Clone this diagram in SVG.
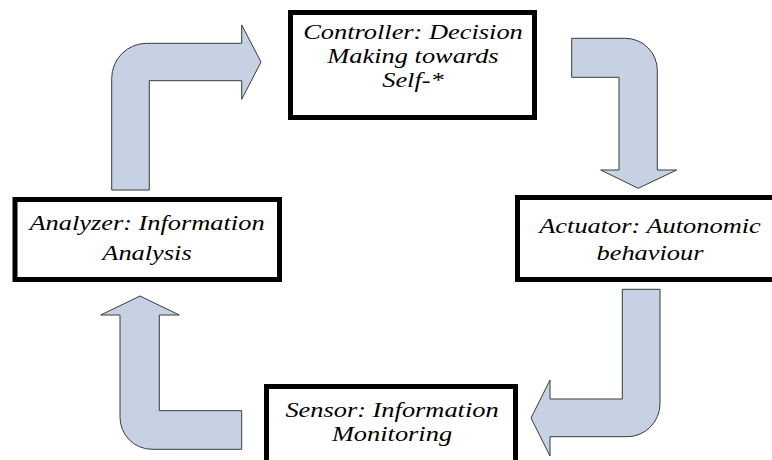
<svg xmlns="http://www.w3.org/2000/svg" width="772" height="460" viewBox="0 0 772 460">
  <style>
    .box { fill: #ffffff; stroke: #000000; stroke-width: 5; }
    .flow { fill: #c6d1e3; stroke: #3a3a3a; stroke-width: 1; stroke-linejoin: miter; }
    text { font-family: "Liberation Serif", "Times New Roman", serif; font-style: italic; font-size: 22px; fill: #000000; text-anchor: middle; }
  </style>
  <rect width="772" height="460" fill="#ffffff"/>

  <!-- bent block arrows forming the control loop -->
  <g id="connectors">
    <path class="flow" d="M111.7,190 L111.7,78.3 A35,35 0 0 1 146.7,43.3 L241.7,43.3 L241.7,25 L261,62 L241.7,99.3 L241.7,80.7 L149.3,80.7 L149.3,190 Z"/>
    <path class="flow" d="M571.7,38.3 L625.3,38.3 A32,32 0 0 1 657.3,70.3 L657.3,170 L676.7,170 L638.2,188.3 L600.7,170 L619,170 L619,77.3 L571.7,77.3 Z"/>
    <path class="flow" d="M622.3,289.3 L660,289.3 L660,403.7 A33,33 0 0 1 627,436.7 L550,436.7 L550,456 L531,418 L550,380 L550,399 L622.3,399 Z"/>
    <path class="flow" d="M241.7,410.7 L241.7,449.3 L152,449.3 A32,32 0 0 1 120,417.3 L120,315 L100.7,315 L140,296 L179.3,315 L159.3,315 L159.3,410.7 Z"/>
  </g>

  <!-- labels are set in a slightly widened italic serif (x-scale 1.2 about each centre) -->
  <g id="controller">
    <rect class="box" x="290.5" y="12.5" width="244" height="105"/>
    <g transform="matrix(1.2,0,0,1,-82.6,0)">
      <text x="413" y="39">Controller: Decision</text>
      <text x="413" y="63">Making towards</text>
      <text x="413" y="87">Self-*</text>
    </g>
  </g>

  <g id="actuator">
    <rect class="box" x="517.5" y="197.5" width="270" height="82"/>
    <g transform="matrix(1.2,0,0,1,-130,0)">
      <text x="650" y="233">Actuator: Autonomic</text>
      <text x="650" y="260">behaviour</text>
    </g>
  </g>

  <g id="sensor">
    <rect class="box" x="266.5" y="386.5" width="249" height="90"/>
    <g transform="matrix(1.2,0,0,1,-78.4,0)">
      <text x="392" y="417">Sensor: Information</text>
      <text x="392" y="441">Monitoring</text>
    </g>
  </g>

  <g id="analyzer">
    <rect class="box" x="15" y="199.5" width="264.5" height="80"/>
    <g transform="matrix(1.2,0,0,1,-29.4,0)">
      <text x="147" y="230">Analyzer: Information</text>
      <text x="147" y="260">Analysis</text>
    </g>
  </g>
</svg>
